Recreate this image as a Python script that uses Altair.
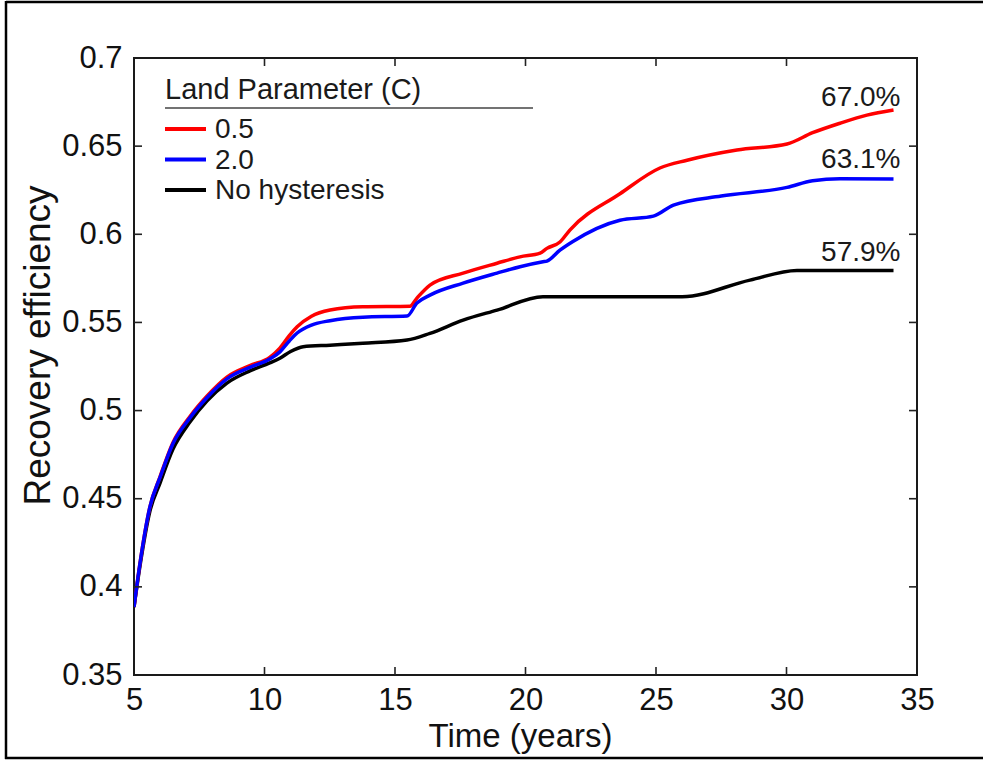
import altair as alt
import pandas as pd

FONT = "Liberation Sans"

series_names = ["0.5", "2.0", "No hysteresis"]
series_colors = ["#ff0000", "#0000ff", "#000000"]
end_labels = ["67.0%", "63.1%", "57.9%"]

red_x = [5.0, 5.23, 5.61, 6.0, 6.49, 7.15, 7.8, 8.56, 9.44, 10.2, 10.59, 10.95, 11.25, 11.8,
         12.51, 13.77, 15.57, 15.84, 16.34, 17.61, 18.91, 19.79, 20.56, 20.82, 21.32, 21.70,
         23.62, 25.15, 26.19, 28.1, 30.02, 31.0, 32.05, 33.08, 34.1]
red_y = [0.3886, 0.4134, 0.4454, 0.4626, 0.4818, 0.4968, 0.5083, 0.519, 0.5255, 0.5302, 0.5354,
         0.5425, 0.5475, 0.5535, 0.557, 0.5589, 0.5592, 0.5638, 0.5712, 0.578, 0.5836, 0.5872,
         0.5893, 0.592, 0.5956, 0.6024, 0.623, 0.6376, 0.642, 0.6478, 0.6512, 0.6576, 0.663,
         0.6676, 0.6705]

blue_x = [5.0, 5.23, 5.61, 6.0, 6.49, 7.15, 7.8, 8.56, 9.44, 10.2, 10.59, 10.95, 11.25, 11.8,
          12.51, 13.77, 15.46, 15.84, 16.34, 17.61, 18.91, 19.79, 20.67, 20.82, 21.32, 21.8,
          23.62, 24.9, 25.67, 27.5, 30.02, 31.0, 32.05, 34.1]
blue_y = [0.3886, 0.4134, 0.4454, 0.4622, 0.4812, 0.4960, 0.5074, 0.518, 0.5245, 0.5292, 0.5333,
          0.5395, 0.544, 0.5485, 0.551, 0.553, 0.5536, 0.561, 0.5655, 0.5723, 0.578, 0.5816,
          0.5844, 0.5848, 0.591, 0.5958, 0.608, 0.6103, 0.6166, 0.6217, 0.6266, 0.6304, 0.6315,
          0.6313]

black_x = [5.0, 5.23, 5.61, 6.0, 6.49, 7.15, 7.8, 8.56, 9.44, 10.2, 10.59, 11.0, 11.48, 12.51,
           13.77, 15.46, 16.34, 17.61, 18.91, 20.67, 21.0, 26.0, 28.6, 30.4, 34.1]
black_y = [0.3886, 0.412, 0.443, 0.459, 0.478, 0.4936, 0.5055, 0.5156, 0.5225, 0.527, 0.5297,
           0.5335, 0.5362, 0.5371, 0.5382, 0.540, 0.5438, 0.5513, 0.557, 0.5646, 0.5646, 0.5646,
           0.574, 0.5795, 0.5795]

x_ticks = [5, 10, 15, 20, 25, 30, 35]
y_ticks = [0.35, 0.4, 0.45, 0.5, 0.55, 0.6, 0.65, 0.7]

W, H = 783, 617
TICK = 8

xscale = alt.Scale(domain=[5, 35], nice=False, zero=False)
yscale = alt.Scale(domain=[0.35, 0.7], nice=False, zero=False)

xaxis = alt.Axis(values=x_ticks, format="d", ticks=False, domain=False, grid=False,
                 labelPadding=10, labelFontSize=31, labelFlush=False, labelOverlap=False,
                 title="Time (years)", titleFontSize=33, titleFontWeight="normal",
                 titleX=386, titleY=71, titleAlign="center", titleBaseline="alphabetic")
yaxis = alt.Axis(values=y_ticks, format=".2~f", ticks=False, domain=False, grid=False,
                 labelPadding=12, labelFontSize=31, labelFlush=False, labelOverlap=False,
                 title="Recovery efficiency", titleFontSize=37, titleFontWeight="normal",
                 titleX=-96, titleY=287, titleAlign="center", titleBaseline="middle")


def xy(xf, yf):
    return dict(x=alt.X(xf, type="quantitative", scale=xscale, axis=xaxis),
                y=alt.Y(yf, type="quantitative", scale=yscale, axis=yaxis))


series = {
    "0.5": (red_x, red_y),
    "2.0": (blue_x, blue_y),
    "No hysteresis": (black_x, black_y),
}

layers = []

# data lines, drawn black first, then red, then blue on top
for idx in [2, 0, 1]:
    name = series_names[idx]
    xs, ys = series[name]
    df = pd.DataFrame({"t": xs, "r": ys, "s": name})
    layers.append(
        alt.Chart(df).mark_line(strokeWidth=3.5, color=series_colors[idx], clip=True,
                                interpolate="monotone")
        .encode(**xy("t", "r"))
    )

# end labels
label_dy = [-12, -19, -17]
for idx, name in enumerate(series_names):
    xs, ys = series[name]
    df = pd.DataFrame({"t": [xs[-1]], "r": [ys[-1]], "lab": [end_labels[idx]]})
    layers.append(
        alt.Chart(df).mark_text(align="right", baseline="middle", dx=7, dy=label_dy[idx],
                                fontSize=28, font=FONT, color="#1a1a1a")
        .encode(text="lab:N", **xy("t", "r"))
    )

# inward ticks on all four sides
xt = pd.DataFrame({"t": x_ticks[1:-1]})
yt = pd.DataFrame({"r": y_ticks[1:-1]})
tick_style = dict(color="#222222", strokeWidth=1.6)
layers.append(alt.Chart(xt).mark_rule(**tick_style).encode(
    x=alt.X("t:Q", scale=xscale, axis=xaxis), y=alt.value(H), y2=alt.value(H - TICK)))
layers.append(alt.Chart(xt).mark_rule(**tick_style).encode(
    x=alt.X("t:Q", scale=xscale, axis=xaxis), y=alt.value(0), y2=alt.value(TICK)))
layers.append(alt.Chart(yt).mark_rule(**tick_style).encode(
    y=alt.Y("r:Q", scale=yscale, axis=yaxis), x=alt.value(0), x2=alt.value(TICK)))
layers.append(alt.Chart(yt).mark_rule(**tick_style).encode(
    y=alt.Y("r:Q", scale=yscale, axis=yaxis), x=alt.value(W), x2=alt.value(W - TICK)))

# manual legend inside the plot
one = pd.DataFrame({"a": [0]})
layers.append(alt.Chart(one).mark_text(align="left", baseline="alphabetic", fontSize=29,
                                       font=FONT, color="#1a1a1a").encode(
    x=alt.value(31), y=alt.value(41), text=alt.value("Land Parameter (C)")))
layers.append(alt.Chart(one).mark_rule(color="#444444", strokeWidth=1.6).encode(
    x=alt.value(31), x2=alt.value(399), y=alt.value(50)))
for i, name in enumerate(series_names):
    ry = 71 + 30.5 * i
    layers.append(alt.Chart(one).mark_rule(color=series_colors[i], strokeWidth=4).encode(
        x=alt.value(31), x2=alt.value(72), y=alt.value(ry)))
    layers.append(alt.Chart(one).mark_text(align="left", baseline="middle", fontSize=28,
                                           font=FONT, color="#1a1a1a").encode(
        x=alt.value(81), y=alt.value(ry + 1), text=alt.value(name)))

# outer figure border (left, top, bottom)
border = dict(color="#000000", strokeWidth=2.5)
layers.append(alt.Chart(one).mark_rule(**border).encode(
    x=alt.value(-128), x2=alt.value(860), y=alt.value(-56)))
layers.append(alt.Chart(one).mark_rule(**border).encode(
    x=alt.value(-128), y=alt.value(-57), y2=alt.value(701)))
layers.append(alt.Chart(one).mark_rule(**border).encode(
    x=alt.value(-129), x2=alt.value(860), y=alt.value(700)))

chart = alt.layer(*layers).properties(
    width=W, height=H,
    autosize=alt.AutoSizeParams(type="none"),
    padding={"left": 134, "top": 58, "right": 66, "bottom": 85},
    background="white",
).configure_view(
    stroke="#1a1a1a", strokeWidth=2
).configure_axis(
    labelFont=FONT, titleFont=FONT, labelColor="#111111", titleColor="#111111"
)

chart.save("out.html", embed_options={"renderer": "svg", "actions": False})
